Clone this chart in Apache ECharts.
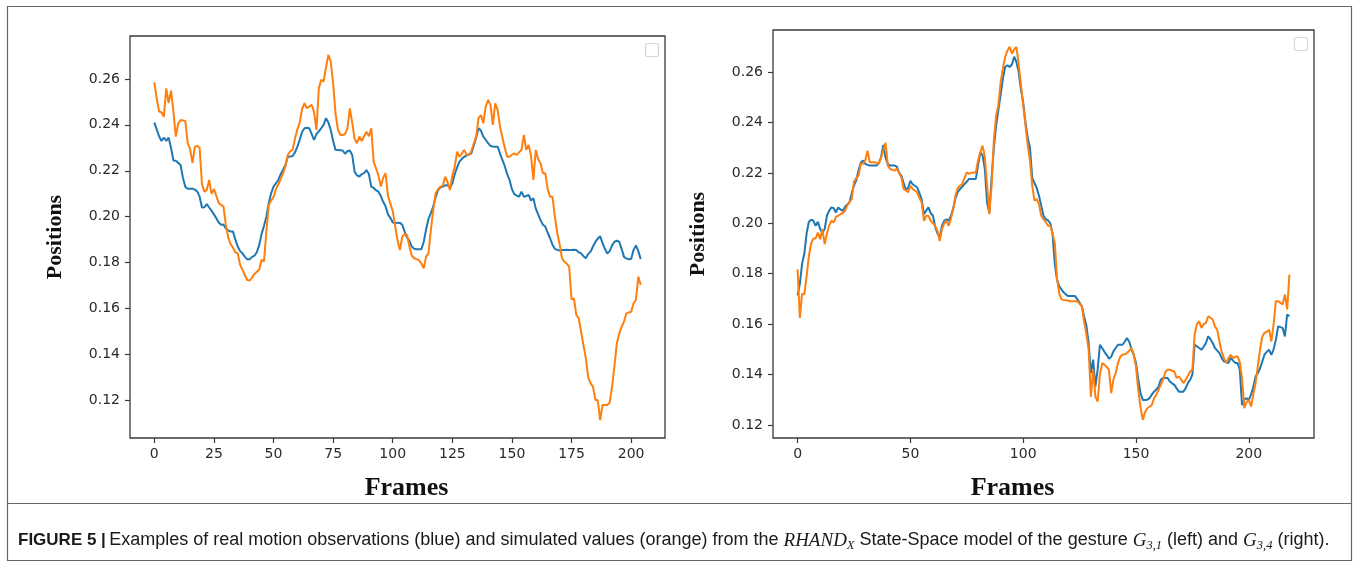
<!DOCTYPE html>
<html>
<head>
<meta charset="utf-8">
<script src="https://cdn.jsdelivr.net/npm/echarts/dist/echarts.min.js"></script>
<style>
html,body{margin:0;padding:0;background:#fff;}
#chart{width:1360px;height:569px;}
</style>
</head>
<body>
<div id="chart"></div>
<script>
// ---- Data ----
const leftXTicks = [0, 25, 50, 75, 100, 125, 150, 175, 200];
const rightXTicks = [0, 50, 100, 150, 200];
const yTicks = [0.12, 0.14, 0.16, 0.18, 0.20, 0.22, 0.24, 0.26];

// Left panel (G3,1): frame index = array position
const leftBlue = [
0.241,0.238,0.235,0.233,0.2345,0.233,0.2345,0.230,0.2245,0.2244,
0.2235,0.2225,0.217,0.213,0.2122,0.2122,0.2122,0.2118,0.211,0.2087,
0.204,0.2041,0.2055,0.204,0.2026,0.201,0.1993,0.1975,0.1965,0.1966,
0.1949,0.194,0.1935,0.1935,0.190,0.187,0.185,0.184,0.1825,0.1815,
0.1815,0.1825,0.183,0.1845,0.1877,0.1925,0.196,0.200,0.206,0.2102,
0.2131,0.2145,0.216,0.2185,0.2205,0.2225,0.2261,0.2262,0.2264,0.228,
0.2305,0.2335,0.237,0.2385,0.2387,0.2385,0.236,0.2334,0.236,0.2372,
0.2385,0.240,0.2429,0.241,0.2378,0.233,0.2291,0.229,0.2289,0.2288,
0.2274,0.2285,0.2288,0.2269,0.2196,0.218,0.2175,0.2185,0.219,0.2203,
0.2185,0.2131,0.2125,0.2115,0.2109,0.209,0.2065,0.2045,0.201,0.1995,
0.1975,0.1971,0.1974,0.1973,0.1965,0.1935,0.191,0.1895,0.187,0.186,
0.1858,0.1858,0.1858,0.189,0.1945,0.199,0.2015,0.2045,0.2085,0.2115,
0.2128,0.2131,0.2136,0.2138,0.2125,0.2145,0.2185,0.2215,0.224,0.2252,
0.2261,0.2266,0.2272,0.2276,0.231,0.2345,0.2385,0.2375,0.2349,0.2335,
0.232,0.2308,0.2306,0.2305,0.2305,0.2275,0.2247,0.222,0.2185,0.216,
0.212,0.2098,0.2092,0.2087,0.2109,0.2087,0.209,0.2095,0.207,0.208,
0.2035,0.201,0.1985,0.1965,0.1957,0.193,0.1906,0.1878,0.186,0.1855,
0.1853,0.1855,0.1855,0.1856,0.1855,0.1855,0.1856,0.1855,0.1845,0.184,
0.1828,0.1819,0.1838,0.1848,0.187,0.189,0.1905,0.1915,0.1885,0.186,
0.184,0.185,0.1875,0.1891,0.1895,0.1891,0.186,0.1825,0.1818,0.1815,
0.1816,0.1855,0.1875,0.185,0.1815
];
const leftOrange = [
0.2585,0.2515,0.2458,0.2455,0.2435,0.2559,0.2495,0.2549,0.246,0.2349,
0.2405,0.2421,0.2419,0.2417,0.232,0.2295,0.2233,0.2305,0.2308,0.230,
0.214,0.2109,0.2116,0.216,0.210,0.212,0.209,0.206,0.2051,0.2045,
0.1964,0.191,0.188,0.1865,0.1845,0.184,0.179,0.1768,0.1745,0.1724,
0.1722,0.1735,0.175,0.176,0.177,0.1812,0.1805,0.1935,0.205,0.207,
0.2085,0.212,0.214,0.2165,0.2189,0.222,0.227,0.2285,0.2291,0.234,
0.238,0.241,0.247,0.2494,0.2472,0.248,0.2487,0.2455,0.2378,0.256,
0.2596,0.2589,0.265,0.2705,0.2676,0.258,0.245,0.238,0.2356,0.2356,
0.236,0.2385,0.2472,0.241,0.234,0.232,0.2349,0.233,0.235,0.237,
0.235,0.2385,0.224,0.2211,0.218,0.2131,0.217,0.2189,0.209,0.2058,
0.2025,0.196,0.1898,0.1855,0.1913,0.1925,0.192,0.187,0.183,0.1819,
0.1815,0.1811,0.1797,0.1775,0.1826,0.184,0.1942,0.203,0.2102,0.212,
0.2131,0.2135,0.2174,0.215,0.2116,0.218,0.2218,0.2283,0.2261,0.2275,
0.2291,0.2269,0.2269,0.2285,0.232,0.2349,0.2429,0.2443,0.2407,0.248,
0.2508,0.2487,0.240,0.2494,0.2465,0.2392,0.2345,0.230,0.2261,0.2261,
0.227,0.2276,0.2269,0.228,0.2291,0.2356,0.2291,0.2312,0.2265,0.216,
0.2291,0.225,0.2233,0.2189,0.2189,0.212,0.2087,0.2087,0.200,0.193,
0.188,0.1819,0.1804,0.1795,0.1782,0.164,0.1644,0.1572,0.1557,0.150,
0.144,0.1383,0.130,0.1274,0.126,0.1201,0.1201,0.1114,0.118,0.118,
0.118,0.119,0.126,0.135,0.1448,0.1492,0.152,0.1543,0.1579,0.1583,
0.1586,0.1623,0.1637,0.1739,0.1702
];

// Right panel (G3,4)
const rightBlue = [
0.1714,0.176,0.184,0.188,0.196,0.2006,0.2014,0.201,0.199,0.2006,
0.1977,0.1963,0.1977,0.203,0.205,0.2063,0.206,0.2043,0.2063,0.2055,
0.2049,0.2065,0.2075,0.2083,0.212,0.215,0.217,0.221,0.224,0.2249,
0.2236,0.2232,0.2229,0.2229,0.2229,0.2229,0.224,0.2262,0.2311,0.226,
0.2235,0.2229,0.2229,0.2229,0.2225,0.22,0.2189,0.216,0.2135,0.214,
0.2169,0.2155,0.2149,0.2143,0.212,0.2095,0.2036,0.205,0.2063,0.204,
0.203,0.1985,0.196,0.1943,0.199,0.201,0.2016,0.201,0.203,0.206,
0.21,0.2125,0.2136,0.2145,0.2156,0.2165,0.2176,0.2176,0.2176,0.2176,
0.223,0.2282,0.2269,0.2216,0.208,0.2043,0.218,0.23,0.2388,0.245,
0.251,0.2574,0.262,0.2627,0.262,0.263,0.2661,0.264,0.26,0.253,
0.248,0.24,0.234,0.23,0.218,0.216,0.214,0.2109,0.207,0.203,
0.2016,0.2012,0.2,0.196,0.184,0.1775,0.175,0.1737,0.1725,0.1717,
0.1711,0.1711,0.1711,0.1711,0.1698,0.1685,0.1671,0.163,0.1595,0.1525,
0.1406,0.1459,0.1352,0.1419,0.1518,0.1505,0.149,0.1478,0.1462,0.147,
0.1492,0.1505,0.1518,0.1518,0.1518,0.153,0.1545,0.153,0.15,0.1478,
0.1446,0.138,0.1326,0.1299,0.1299,0.13,0.1306,0.132,0.1332,0.134,
0.1352,0.138,0.1386,0.1386,0.1386,0.1372,0.1365,0.1359,0.1345,0.1332,
0.1332,0.1332,0.1345,0.1366,0.1379,0.14,0.1518,0.1512,0.1505,0.1498,
0.151,0.1525,0.1551,0.154,0.1525,0.1505,0.1495,0.1485,0.1465,0.1452,
0.1448,0.1446,0.1466,0.1455,0.1446,0.1446,0.142,0.1279,0.13,0.1306,
0.1299,0.132,0.135,0.1392,0.1405,0.1425,0.1452,0.148,0.149,0.1498,
0.1478,0.15,0.1538,0.1591,0.1588,0.1585,0.1551,0.1638,0.1631
];
const rightOrange = [
0.1817,0.1625,0.172,0.1718,0.179,0.187,0.192,0.194,0.194,0.1963,
0.1937,0.1977,0.1917,0.196,0.199,0.201,0.2003,0.2025,0.203,0.2036,
0.204,0.2049,0.207,0.2085,0.2096,0.2165,0.218,0.2189,0.2236,0.2236,
0.225,0.2288,0.2242,0.2242,0.2242,0.224,0.2236,0.2262,0.229,0.2319,
0.2229,0.2216,0.2212,0.2209,0.2216,0.22,0.2183,0.2136,0.213,0.2123,
0.2149,0.2136,0.213,0.2123,0.21,0.2083,0.201,0.203,0.203,0.201,
0.2,0.199,0.197,0.193,0.1977,0.2,0.201,0.199,0.202,0.2056,
0.211,0.214,0.2149,0.2156,0.218,0.2202,0.2196,0.22,0.2202,0.2202,
0.225,0.2282,0.2308,0.2262,0.215,0.2036,0.2149,0.233,0.2428,0.2468,
0.256,0.2614,0.266,0.2685,0.27,0.2674,0.269,0.27,0.263,0.255,
0.2468,0.239,0.231,0.225,0.215,0.209,0.2096,0.2076,0.203,0.2016,
0.2005,0.199,0.199,0.196,0.1923,0.178,0.172,0.1698,0.1696,0.1695,
0.1693,0.1691,0.1691,0.1691,0.1691,0.168,0.1671,0.161,0.156,0.15,
0.1312,0.1419,0.1312,0.1292,0.14,0.1445,0.1439,0.143,0.1419,0.1326,
0.138,0.1406,0.1445,0.147,0.1478,0.148,0.1485,0.1495,0.1505,0.148,
0.143,0.1339,0.127,0.122,0.125,0.1266,0.1272,0.1279,0.1306,0.132,
0.1339,0.136,0.1379,0.141,0.1419,0.1419,0.1415,0.1412,0.1386,0.1392,
0.138,0.1366,0.1379,0.1395,0.1412,0.1419,0.156,0.16,0.1611,0.1585,
0.16,0.1605,0.1631,0.1625,0.1618,0.159,0.1578,0.153,0.149,0.1465,
0.1446,0.1465,0.1478,0.1465,0.147,0.1472,0.145,0.1386,0.1266,0.129,
0.1299,0.1273,0.132,0.1366,0.1432,0.15,0.1551,0.1565,0.157,0.1578,
0.1531,0.16,0.1691,0.1691,0.1685,0.1678,0.1718,0.1658,0.1797
];

const BLUE = '#1f77b4', ORANGE = '#ff7f0e';
const AX = '#3a3a3a';
const tickFont = { fontFamily: 'DejaVu Sans', fontSize: 14, color: '#2a2a2a' };
const titleFont = { fontFamily: 'Liberation Serif', fontWeight: 'bold', color: '#111' };

function toPairs(arr) { return arr.map((v, i) => [i, v]); }

function xAxisFor(gi, min, max, ticks, namePad) {
  return {
    type: 'value', gridIndex: gi, min: min, max: max,
    name: 'Frames', nameLocation: 'middle', nameGap: 37,
    nameTextStyle: Object.assign({ fontSize: 26, padding: namePad }, titleFont),
    axisLine: { show: false, onZero: false },
    splitLine: { show: false },
    axisTick: { show: true, customValues: ticks, length: 5, lineStyle: { color: AX, width: 1.2 } },
    axisLabel: Object.assign({ customValues: ticks, margin: 9, formatter: v => String(v) }, tickFont)
  };
}
function yAxisFor(gi, min, max) {
  return {
    type: 'value', gridIndex: gi, min: min, max: max,
    name: 'Positions', nameLocation: 'middle', nameGap: 64, nameRotate: 90,
    nameTextStyle: Object.assign({ fontSize: 22 }, titleFont),
    axisLine: { show: false, onZero: false },
    splitLine: { show: false },
    axisTick: { show: true, customValues: yTicks, length: 5, lineStyle: { color: AX, width: 1.2 } },
    axisLabel: Object.assign({ customValues: yTicks, margin: 10, formatter: v => v.toFixed(2) }, tickFont)
  };
}

const chart = echarts.init(document.getElementById('chart'), null, { renderer: 'canvas' });

const caption = {
  type: 'text', left: 18, top: 529,
  style: {
    text: '{b|FIGURE 5 |} {n|Examples of real motion observations (blue) and simulated values (orange) from the }{i|RHAND}{s|X}{n| State-Space model of the gesture }{i|G}{s|3,1}{n| (left) and }{i|G}{s|3,4}{n| (right).}',
    rich: {
      b: { fontFamily: 'Liberation Sans', fontWeight: 'bold', fontSize: 17, fill: '#1a1a1a', lineHeight: 22 },
      n: { fontFamily: 'Liberation Sans', fontSize: 18, fill: '#1a1a1a', lineHeight: 22 },
      i: { fontFamily: 'Liberation Serif', fontStyle: 'italic', fontSize: 19, fill: '#1a1a1a', lineHeight: 22 },
      s: { fontFamily: 'Liberation Serif', fontStyle: 'italic', fontSize: 12.5, fill: '#1a1a1a', lineHeight: 22, padding: [10, 0, 0, 0] }
    }
  }
};

chart.setOption({
  backgroundColor: '#fff',
  animation: false,
  grid: [
    { left: 130, top: 36, width: 535, height: 402, show: true, borderColor: AX, borderWidth: 1.3, backgroundColor: '#fff' },
    { left: 773, top: 30, width: 541, height: 408, show: true, borderColor: AX, borderWidth: 1.3, backgroundColor: '#fff' }
  ],
  xAxis: [
    xAxisFor(0, -10.2, 214.2, leftXTicks, [0, 0, 0, 18]),
    xAxisFor(1, -10.9, 228.9, rightXTicks, [0, 62, 0, 0])
  ],
  yAxis: [
    yAxisFor(0, 0.1036, 0.2787),
    yAxisFor(1, 0.1148, 0.2767)
  ],
  series: [
    { name: 'real', type: 'line', xAxisIndex: 0, yAxisIndex: 0, data: toPairs(leftBlue), showSymbol: false, lineStyle: { color: BLUE, width: 2 }, itemStyle: { color: BLUE }, z: 2 },
    { name: 'simulated', type: 'line', xAxisIndex: 0, yAxisIndex: 0, data: toPairs(leftOrange), showSymbol: false, lineStyle: { color: ORANGE, width: 2 }, itemStyle: { color: ORANGE }, z: 3 },
    { name: 'real', type: 'line', xAxisIndex: 1, yAxisIndex: 1, data: toPairs(rightBlue), showSymbol: false, lineStyle: { color: BLUE, width: 2 }, itemStyle: { color: BLUE }, z: 2 },
    { name: 'simulated', type: 'line', xAxisIndex: 1, yAxisIndex: 1, data: toPairs(rightOrange), showSymbol: false, lineStyle: { color: ORANGE, width: 2 }, itemStyle: { color: ORANGE }, z: 3 }
  ],
  graphic: [
    { type: 'rect', shape: { x: 7.5, y: 6.5, width: 1344, height: 554 }, style: { fill: 'none', stroke: '#666', lineWidth: 1.2 }, silent: true, z: 0 },
    { type: 'line', shape: { x1: 7.5, y1: 503.5, x2: 1351.5, y2: 503.5 }, style: { stroke: '#666', lineWidth: 1.2 }, silent: true },
    { type: 'rect', shape: { x: 645.5, y: 43.5, width: 13, height: 13, r: 2 }, style: { fill: '#fff', stroke: '#d8d8d8', lineWidth: 1.2 }, silent: true, z: 10 },
    { type: 'rect', shape: { x: 1294.5, y: 37.5, width: 13, height: 13, r: 2 }, style: { fill: '#fff', stroke: '#d8d8d8', lineWidth: 1.2 }, silent: true, z: 10 },
    caption
  ]
});
</script>
</body>
</html>
